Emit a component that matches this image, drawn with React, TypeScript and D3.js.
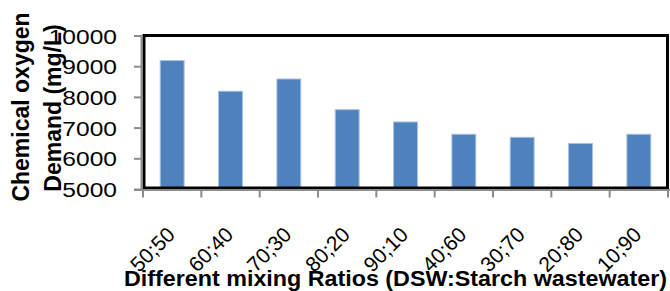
import React, { useEffect, useRef } from 'react';
import * as d3 from 'd3';

// mixing ratios (DSW:Starch wastewater) and COD values
const ratios = ['50;50', '60;40', '70;30', '80;20', '90;10', '40;60', '30;70', '20;80', '10;90'];
const codValues = [9200, 8200, 8600, 7600, 7200, 6800, 6700, 6500, 6800];
const yTicks = [5000, 6000, 7000, 8000, 9000, 10000];

const App = () => {
  const ref = useRef<SVGSVGElement | null>(null);

  useEffect(() => {
    if (!ref.current) return;
    const svg = d3.select(ref.current);
    svg.selectAll('*').remove();

    const margin = { top: 36, right: 2, bottom: 102, left: 143 };
    const width = 670;
    const height = 291;
    const font = '"Liberation Sans", Arial, sans-serif';

    const x = d3.scaleBand<string>()
      .domain(ratios)
      .range([margin.left, width - margin.right])
      .paddingInner(0.59)
      .paddingOuter(0.295);

    const y = d3.scaleLinear()
      .domain([5000, 10000])
      .range([height - margin.bottom + 0.5, margin.top]);

    // Bars
    svg.append('g')
      .selectAll('rect')
      .data(codValues)
      .join('rect')
      .attr('x', (_, i) => x(ratios[i]) as number)
      .attr('y', d => y(d))
      .attr('width', x.bandwidth())
      .attr('height', d => y(5000) - y(d))
      .attr('fill', '#4F81BD')
      .attr('stroke', '#A9C2E2')
      .attr('stroke-width', 1);

    // Plot border (black)
    svg.append('rect')
      .attr('x', margin.left + 1)
      .attr('y', margin.top - 0.5)
      .attr('width', width - margin.right - margin.left - 1.5)
      .attr('height', y(5000) - margin.top - 1)
      .attr('fill', 'none')
      .attr('stroke', '#000')
      .attr('stroke-width', 3);

    // Gray axis lines
    const axisColor = '#8c8c8c';
    svg.append('line')
      .attr('x1', margin.left - 1.5).attr('x2', margin.left - 1.5)
      .attr('y1', margin.top - 1).attr('y2', y(5000) + 1)
      .attr('stroke', axisColor).attr('stroke-width', 2);
    svg.append('line')
      .attr('x1', margin.left - 9).attr('x2', width)
      .attr('y1', y(5000) + 0.5).attr('y2', y(5000) + 0.5)
      .attr('stroke', axisColor).attr('stroke-width', 2);

    // Y ticks + labels
    svg.append('g')
      .selectAll('line')
      .data(yTicks)
      .join('line')
      .attr('x1', margin.left - 9).attr('x2', margin.left)
      .attr('y1', d => y(d)).attr('y2', d => y(d))
      .attr('stroke', axisColor).attr('stroke-width', 2);

    svg.append('g')
      .selectAll('text')
      .data(yTicks)
      .join('text')
      .attr('transform', d => `translate(117,${y(d)}) scale(1.17,1)`)
      .attr('dy', '0.36em')
      .attr('text-anchor', 'end')
      .style('font-family', font)
      .style('font-size', '21px')
      .attr('fill', '#000')
      .text(d => d);

    // X ticks between categories
    const step = x.step();
    const boundaries = d3.range(ratios.length + 1).map(i => margin.left + i * step);
    svg.append('g')
      .selectAll('line')
      .data(boundaries)
      .join('line')
      .attr('x1', d => d).attr('x2', d => d)
      .attr('y1', y(5000)).attr('y2', y(5000) + 8)
      .attr('stroke', axisColor).attr('stroke-width', 2);

    // X labels, rotated
    svg.append('g')
      .selectAll('text')
      .data(ratios)
      .join('text')
      .attr('transform', d => `translate(${(x(d) as number) + x.bandwidth() / 2 + 4},236) rotate(-45)`)
      .attr('text-anchor', 'end')
      .style('font-family', font)
      .style('font-size', '21px')
      .attr('fill', '#000')
      .text(d => d);

    // Y axis title (two lines)
    svg.append('text')
      .attr('transform', 'translate(29,107) rotate(-90)')
      .attr('text-anchor', 'middle')
      .style('font-family', font)
      .style('font-size', '23px')
      .style('font-weight', 'bold')
      .text('Chemical oxygen');
    svg.append('text')
      .attr('transform', 'translate(61,108) rotate(-90)')
      .attr('text-anchor', 'middle')
      .style('font-family', font)
      .style('font-size', '23px')
      .style('font-weight', 'bold')
      .text('Demand (mg/L)');

    // X axis title
    svg.append('text')
      .attr('x', 124)
      .attr('y', 286)
      .attr('textLength', 543)
      .attr('lengthAdjust', 'spacingAndGlyphs')
      .style('font-family', font)
      .style('font-size', '22px')
      .style('font-weight', 'bold')
      .text('Different mixing Ratios (DSW:Starch wastewater)');
  }, []);

  return (
    <svg
      ref={ref}
      width={670}
      height={291}
      style={{ position: 'absolute', left: 0, top: 0, background: '#fff' }}
    />
  );
};

export default App;
